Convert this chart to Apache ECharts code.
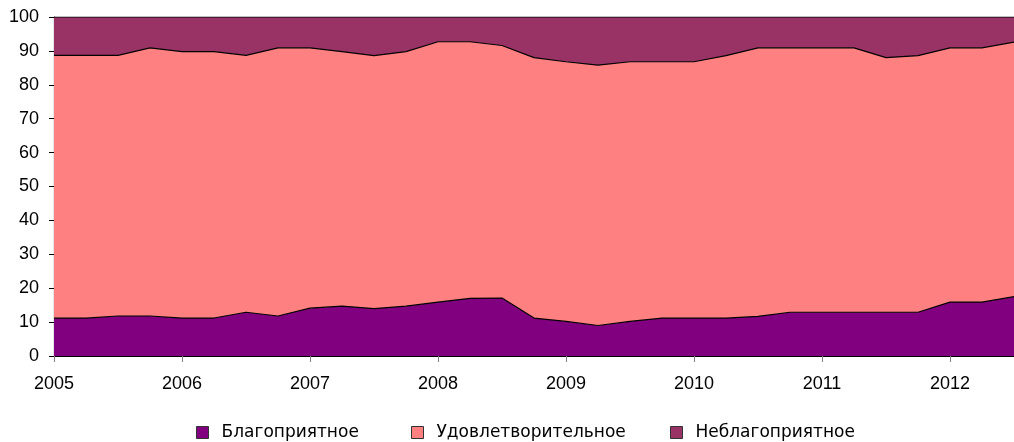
<!DOCTYPE html>
<html><head><meta charset="utf-8">
<script src="https://cdn.jsdelivr.net/npm/echarts@6/dist/echarts.min.js"></script>
<style>html,body{margin:0;padding:0;background:#fff}#c{width:1014px;height:442px}</style>
</head><body><div id="c"></div>
<script>
// Quarterly categories 2005Q1 .. 2012Q3
const categories = ['2005','2005Q2','2005Q3','2005Q4','2006','2006Q2','2006Q3','2006Q4','2007','2007Q2','2007Q3','2007Q4','2008','2008Q2','2008Q3','2008Q4','2009','2009Q2','2009Q3','2009Q4','2010','2010Q2','2010Q3','2010Q4','2011','2011Q2','2011Q3','2011Q4','2012','2012Q2','2012Q3'];
const blago   = [11.2,11.2,11.8,11.8,11.2,11.2,12.9,11.8,14.1,14.7,14.0,14.7,15.9,17.0,17.1,11.2,10.2,9.0,10.2,11.2,11.2,11.2,11.7,12.9,12.9,12.9,12.9,12.9,15.9,15.9,17.5];
const udovl   = [77.5,77.5,76.9,79.1,78.6,78.6,75.8,79.1,76.8,75.1,74.6,75.1,76.8,75.7,74.5,76.8,76.6,76.8,76.6,75.6,75.6,77.4,79.2,78.0,78.0,78.0,75.1,75.7,75.0,75.0,75.1];
const neblago = [11.3,11.3,11.3,9.1,10.2,10.2,11.3,9.1,9.1,10.2,11.4,10.2,7.3,7.3,8.4,12.0,13.2,14.2,13.2,13.2,13.2,11.4,9.1,9.1,9.1,9.1,12.0,11.4,9.1,9.1,7.4];
const names = ['Благоприятное','Удовлетворительное','Неблагоприятное'];
const colors = ['#800080','#FF8080','#993366'];

const chart = echarts.init(document.getElementById('c'));
const mk = (name, data, color) => ({
  name, type: 'line', stack: 'total', data, symbol: 'none', clip: true,
  lineStyle: {color: '#000', width: 1.2},
  itemStyle: {color, borderColor: '#000', borderWidth: 1},
  areaStyle: {color, opacity: 1}
});
const legendLefts = [196, 411, 670];
chart.setOption({
  animation: false,
  grid: {left: 54, top: 17, bottom: 86, right: -10, containLabel: false},
  legend: names.map((n, i) => ({
    top: 424, left: legendLefts[i], padding: 0, itemWidth: 12, itemHeight: 12, icon: 'rect',
    textStyle: {fontFamily: 'DejaVu Sans', fontSize: 17, color: '#000', padding: [0,0,0,8]},
    data: [{name: n, itemStyle: {color: colors[i], borderColor: '#333', borderWidth: 1}}]
  })),
  xAxis: {
    type: 'category', data: categories, boundaryGap: false,
    axisLine: {lineStyle: {color: '#000', width: 1.2}},
    axisTick: {interval: 3, length: 6, lineStyle: {color: '#808080'}},
    axisLabel: {interval: 3, color: '#000', fontFamily: 'Liberation Sans', fontSize: 18, margin: 19,
      formatter: v => v.slice(0, 4)},
    splitLine: {show: false}
  },
  yAxis: {
    type: 'value', min: 0, max: 100, interval: 10,
    axisLine: {show: true, lineStyle: {color: '#000', width: 1.2}},
    axisTick: {show: true, length: 5, lineStyle: {color: '#000'}},
    axisLabel: {color: '#000', fontFamily: 'Liberation Sans', fontSize: 18, margin: 15},
    splitLine: {show: false}
  },
  series: [mk(names[0], blago, colors[0]), mk(names[1], udovl, colors[1]), mk(names[2], neblago, colors[2])]
});
</script></body></html>
